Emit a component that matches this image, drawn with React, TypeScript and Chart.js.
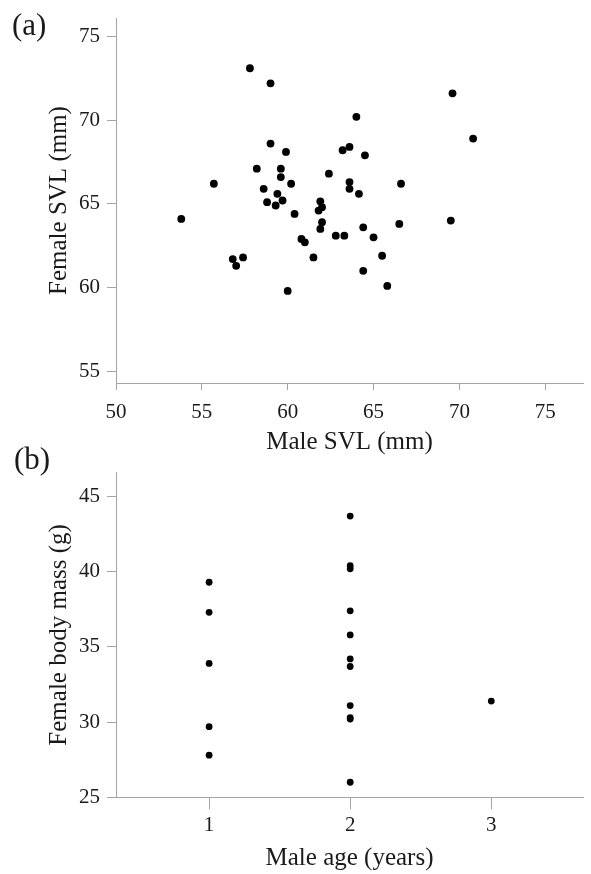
import React, { useEffect, useRef } from "react";
import { Chart, registerables } from "chart.js";

Chart.register(...registerables);

// Panel (a): Male SVL vs Female SVL (mm)
const maleSVL = [
  53.8, 55.7, 56.8, 57.0, 57.4, 57.8, 59.0, 59.0, 59.9, 58.2,
  59.6, 59.6, 60.2, 58.6, 59.4, 58.8, 59.7, 59.3, 60.4, 60.0,
  60.8, 61.0, 61.5, 61.9, 62.0, 61.8, 62.0, 61.9, 62.4, 62.8,
  63.3, 63.2, 63.6, 64.0, 64.5, 63.6, 63.6, 64.15, 64.4, 65.0,
  65.5, 64.4, 65.8, 66.5, 66.6, 69.5, 69.6, 70.8,
];
const femaleSVL = [
  64.1, 66.2, 61.7, 61.3, 61.8, 73.1, 72.2, 68.6, 68.1, 67.1,
  67.1, 66.6, 66.2, 65.9, 65.6, 65.1, 65.2, 64.9, 64.4, 59.8,
  62.9, 62.7, 61.8, 65.15, 64.8, 64.6, 63.9, 63.5, 66.8, 63.1,
  63.1, 68.2, 68.4, 70.2, 67.9, 66.3, 65.9, 65.6, 63.6, 63.0,
  61.9, 61.0, 60.1, 63.8, 66.2, 64.0, 71.6, 68.9,
];
const svlXTicks = [50, 55, 60, 65, 70, 75];
const svlYTicks = [55, 60, 65, 70, 75];

// Panel (b): Male age vs Female body mass (g)
const maleAges = [1, 2, 3];
const massAge1 = [39.3, 37.3, 33.9, 29.7, 27.8];
const massAge2 = [43.7, 40.4, 40.2, 37.4, 35.8, 34.2, 33.7, 31.1, 30.3, 30.2, 26.0];
const massAge3 = [31.4];
const massYTicks = [25, 30, 35, 40, 45];

const SERIF = "'Liberation Serif', 'Times New Roman', serif";
const AXIS_GRAY = "#a3a3a3";
const TEXT = "#1a1a1a";

type PanelCfg = {
  points: { x: number; y: number }[];
  radius: number;
  xMin: number; xMax: number; yMin: number; yMax: number;
  xTicks: number[]; yTicks: number[];
  xTitle: string; yTitle: string;
  height: number; padTop: number; plotBottom: number;
  xTickLen: number; xTickPad: number; xTitlePadBottom: number;
};

function makeConfig(c: PanelCfg): any {
  return {
    type: "scatter",
    data: {
      datasets: [
        {
          data: c.points,
          backgroundColor: "#000",
          borderWidth: 0,
          pointRadius: c.radius,
          pointHoverRadius: c.radius,
        },
      ],
    },
    options: {
      animation: false,
      responsive: false,
      events: [],
      layout: { padding: { top: c.padTop, right: 8, left: 0, bottom: 0 } },
      plugins: { legend: { display: false }, tooltip: { enabled: false } },
      scales: {
        x: {
          type: "linear",
          min: c.xMin,
          max: c.xMax,
          afterBuildTicks: (s: any) => { s.ticks = c.xTicks.map((v) => ({ value: v })); },
          afterFit: (s: any) => { s.height = c.height - c.plotBottom; },
          grid: { drawOnChartArea: false, drawTicks: true, tickLength: c.xTickLen, color: AXIS_GRAY, lineWidth: 1 },
          border: { display: true, color: AXIS_GRAY, width: 1 },
          ticks: { color: TEXT, padding: c.xTickPad, font: { family: SERIF, size: 21, lineHeight: 1 }, maxRotation: 0, autoSkip: false },
          title: { display: true, text: c.xTitle, color: TEXT, font: { family: SERIF, size: 25, lineHeight: 1 }, padding: { top: 0, bottom: c.xTitlePadBottom } },
        },
        y: {
          type: "linear",
          min: c.yMin,
          max: c.yMax,
          afterBuildTicks: (s: any) => { s.ticks = c.yTicks.map((v) => ({ value: v })); },
          afterFit: (s: any) => { s.width = 116; },
          grid: { drawOnChartArea: false, drawTicks: true, tickLength: 9, color: AXIS_GRAY, lineWidth: 1 },
          border: { display: true, color: AXIS_GRAY, width: 1 },
          ticks: { color: TEXT, padding: 7, font: { family: SERIF, size: 21, lineHeight: 1 } },
          title: { display: true, text: c.yTitle, color: TEXT, font: { family: SERIF, size: 25, lineHeight: 1 }, padding: { top: 46.5, bottom: 0 } },
        },
      },
    },
  };
}

function Panel({ cfg, top }: { cfg: PanelCfg; top: number }) {
  const ref = useRef<HTMLCanvasElement | null>(null);
  useEffect(() => {
    if (!ref.current) return;
    const chart = new Chart(ref.current, makeConfig(cfg));
    return () => chart.destroy();
  }, []);
  return (
    <canvas
      ref={ref}
      width={591}
      height={cfg.height}
      style={{ position: "absolute", left: 0, top, width: 591, height: cfg.height, display: "block" }}
    />
  );
}

const panelA: PanelCfg = {
  points: maleSVL.map((x, i) => ({ x, y: femaleSVL[i] })),
  radius: 3.9,
  xMin: 50, xMax: 77.2, yMin: 54.3, yMax: 76.1,
  xTicks: svlXTicks, yTicks: svlYTicks,
  xTitle: "Male SVL (mm)", yTitle: "Female SVL (mm)",
  height: 455, padTop: 18, plotBottom: 383,
  xTickLen: 7, xTickPad: 12, xTitlePadBottom: 0.5,
};

const agePoints = [
  ...massAge1.map((y) => ({ x: maleAges[0], y })),
  ...massAge2.map((y) => ({ x: maleAges[1], y })),
  ...massAge3.map((y) => ({ x: maleAges[2], y })),
];

const panelB: PanelCfg = {
  points: agePoints,
  radius: 3.4,
  xMin: 0.34, xMax: 3.65, yMin: 25, yMax: 46.6,
  xTicks: maleAges, yTicks: massYTicks,
  xTitle: "Male age (years)", yTitle: "Female body mass (g)",
  height: 419, padTop: 16.7, plotBottom: 342.3,
  xTickLen: 12, xTickPad: 5.7, xTitlePadBottom: 3.5,
};

export default function App() {
  const labelStyle: React.CSSProperties = {
    position: "absolute",
    fontFamily: SERIF,
    fontSize: 31,
    lineHeight: "31px",
    color: TEXT,
    margin: 0,
  };
  return (
    <div style={{ position: "absolute", left: 0, top: 0, width: 591, height: 874, background: "#fff", overflow: "hidden" }}>
      <Panel cfg={panelA} top={0} />
      <Panel cfg={panelB} top={455} />
      <div style={{ ...labelStyle, left: 12, top: 9 }}>(a)</div>
      <div style={{ ...labelStyle, left: 14, top: 443 }}>(b)</div>
    </div>
  );
}
